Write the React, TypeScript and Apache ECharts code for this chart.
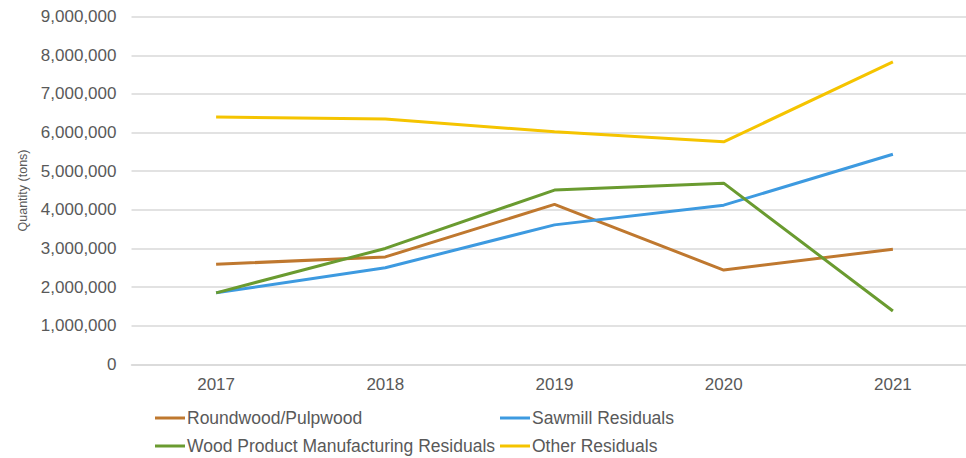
import React, { useEffect, useRef } from "react";
import * as echarts from "echarts";

const years = ["2017", "2018", "2019", "2020", "2021"];
const roundwood = [2590000, 2780000, 4140000, 2440000, 2980000];
const sawmill = [1850000, 2500000, 3610000, 4120000, 5440000];
const woodProduct = [1850000, 3000000, 4510000, 4690000, 1380000];
const other = [6400000, 6350000, 6020000, 5760000, 7830000];

const seriesNames = [
  "Roundwood/Pulpwood",
  "Sawmill Residuals",
  "Wood Product Manufacturing Residuals",
  "Other Residuals",
];
const colors = ["#BF782F", "#3D9AE0", "#6A9B30", "#F5C400"];

const FONT = "'Liberation Sans', Arial, sans-serif";
const TEXT = "#595959";
const GRID = "#d9d9d9";

export default function App() {
  const ref = useRef<HTMLDivElement>(null);
  useEffect(() => {
    if (!ref.current) return;
    const chart = echarts.init(ref.current, null, { renderer: "svg" });
    const values = [roundwood, sawmill, woodProduct, other];
    const legendCommon = {
      orient: "vertical" as const,
      top: 408,
      height: 80,
      padding: 0,
      itemWidth: 30,
      itemHeight: 3,
      itemGap: 8,
      icon: "rect",
      textStyle: {
        fontFamily: FONT,
        fontSize: 17.5,
        color: TEXT,
        lineHeight: 20,
        padding: [0, 0, 0, -3],
      },
    };
    chart.setOption({
      animation: false,
      backgroundColor: "#ffffff",
      textStyle: { fontFamily: FONT },
      grid: {
        left: 131.5,
        top: 16.7,
        width: 846,
        height: 347.6,
        containLabel: false,
        outerBoundsMode: "none",
      },
      legend: [
        { ...legendCommon, left: 155, data: [seriesNames[0], seriesNames[2]] },
        { ...legendCommon, left: 500, data: [seriesNames[1], seriesNames[3]] },
      ],
      xAxis: {
        type: "category",
        data: years,
        boundaryGap: true,
        axisLine: { show: true, lineStyle: { color: GRID, width: 1.5 } },
        axisTick: { show: false },
        axisLabel: { fontFamily: FONT, fontSize: 17, color: TEXT, margin: 12 },
      },
      yAxis: {
        type: "value",
        min: 0,
        max: 9000000,
        interval: 1000000,
        name: "Quantity (tons)",
        nameLocation: "middle",
        nameGap: 94,
        nameTextStyle: { fontFamily: FONT, fontSize: 12.5, color: TEXT },
        axisLine: { show: false },
        axisTick: { show: false },
        splitLine: { lineStyle: { color: GRID, width: 1.5 } },
        axisLabel: {
          fontFamily: FONT,
          fontSize: 17,
          color: TEXT,
          margin: 15,
          formatter: (v: number) => v.toLocaleString("en-US"),
        },
      },
      series: seriesNames.map((name, i) => ({
        name,
        type: "line",
        data: values[i],
        symbol: "none",
        lineStyle: { color: colors[i], width: 3 },
        itemStyle: { color: colors[i] },
      })),
    });
    return () => chart.dispose();
  }, []);
  return (
    <div
      ref={ref}
      style={{ position: "fixed", left: 0, top: 0, width: 966, height: 458 }}
    />
  );
}
